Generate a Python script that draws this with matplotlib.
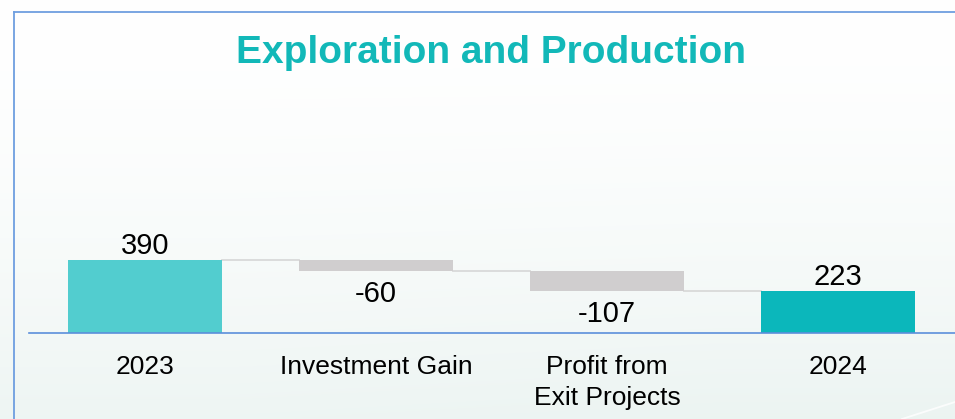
"""Waterfall chart: Exploration and Production, 2023 -> 2024."""
import numpy as np
import matplotlib
matplotlib.use("Agg")
import matplotlib.pyplot as plt
from matplotlib.lines import Line2D

plt.rcParams["font.family"] = ["Liberation Sans", "DejaVu Sans"]

# ---------------------------------------------------------------------------
# data
# ---------------------------------------------------------------------------
categories = ["2023", "Investment Gain", "Profit from\nExit Projects", "2024"]
values = [390, -60, -107, 223]
is_total = [True, False, False, True]
value_labels = ["390", "-60", "-107", "223"]

TITLE = "Exploration and Production"
TEAL_LIGHT = "#52CDCF"
TEAL = "#0BB7BB"
GREY = "#D0CECF"
CONNECT = "#D9D9D9"
FRAME = "#6E9EE0"
AXIS_BLUE = "#5B8FDB"

W, H = 955, 419
PX_PER_UNIT = 0.188          # pixels per value unit
BASE_PX = H - 333            # baseline, pixels from bottom
SLOT_PX = 231                # category spacing in pixels
FIRST_PX = 145               # centre of first category
BAR_W = 154 / SLOT_PX

fig = plt.figure(figsize=(W / 100, H / 100), dpi=100)

# background gradient (white top -> faint mint bottom)
bg = fig.add_axes([0, 0, 1, 1], zorder=-2)
t = np.linspace(0, 1, 200)[:, None, None] ** 1.6      # 0 top, 1 bottom
s = np.linspace(0, 1, 2)[None, :, None]               # left -> right
white = np.array([1.0, 1.0, 1.0])
mint = np.array([0.925, 0.957, 0.948])
grad = white + (mint - white) * t * (0.9 + 0.1 * s)
bg.imshow(grad, extent=[0, 1, 0, 1], aspect="auto", interpolation="bilinear")
# faint streak in the lower-right corner
bg.plot([902 / W, 1], [0, 17 / H], color="white", lw=1.3, alpha=0.8)
bg.set_xlim(0, 1)
bg.set_ylim(0, 1)
bg.set_axis_off()

ax = fig.add_axes([0, 0, 1, 1])
ax.set_xlim(-FIRST_PX / SLOT_PX, (W - FIRST_PX) / SLOT_PX)
ax.set_ylim(-BASE_PX / PX_PER_UNIT, (H - BASE_PX) / PX_PER_UNIT)
ax.set_axis_off()
ax.patch.set_alpha(0)

# waterfall geometry
x = np.arange(len(categories))
running = 0
bottoms, heights, colors = [], [], []
for i, (v, tot) in enumerate(zip(values, is_total)):
    if tot:
        bottoms.append(0)
        heights.append(v)
        colors.append(TEAL_LIGHT if i == 0 else TEAL)
        running = v
    else:
        bottoms.append(running + v if v < 0 else running)
        heights.append(abs(v))
        colors.append(GREY)
        running += v

ax.bar(x, heights, bottom=bottoms, width=BAR_W, color=colors, zorder=3)

# connectors between bars
level = 0
for i, (v, tot) in enumerate(zip(values, is_total)):
    level = v if tot else level + v
    if i < len(values) - 1:
        ax.plot([x[i] + BAR_W / 2, x[i + 1] - BAR_W / 2], [level, level],
                color=CONNECT, lw=1.3, zorder=2)

# value labels
pt = 0.72  # points per pixel at dpi 100
for i, (v, tot) in enumerate(zip(values, is_total)):
    top = bottoms[i] + heights[i]
    if v >= 0:
        ax.annotate(value_labels[i], (x[i], top), xytext=(0, 6 * pt),
                    textcoords="offset points", ha="center", va="baseline",
                    fontsize=21, color="black")
    else:
        ax.annotate(value_labels[i], (x[i], bottoms[i]), xytext=(0, -31 * pt),
                    textcoords="offset points", ha="center", va="baseline",
                    fontsize=21, color="black")

# category labels
for i, lab in enumerate(categories):
    ax.annotate(lab, (x[i], 0), xytext=(0, -22 * pt), textcoords="offset points",
                ha="center", va="top", fontsize=19, color="black",
                linespacing=1.35)

# baseline
ax.axhline(0, xmin=29 / W, xmax=1, color=AXIS_BLUE, lw=1.2, zorder=4)

# title
fig.text(491 / W, 1 - 63 / H, TITLE, ha="center", va="baseline",
         fontsize=28, fontweight="bold", color="#12B8B8")

# slide frame
fig.add_artist(Line2D([14 / W, 14 / W], [0, 1 - 12 / H], color=FRAME, lw=1.3,
                      transform=fig.transFigure))
fig.add_artist(Line2D([14 / W, 1], [1 - 12 / H, 1 - 12 / H], color=FRAME,
                      lw=1.3, transform=fig.transFigure))

fig.savefig("out.png", dpi=100)
